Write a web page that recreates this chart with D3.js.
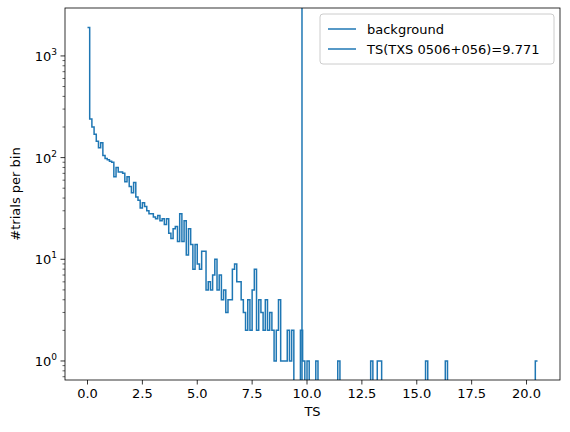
<!DOCTYPE html>
<html><head><meta charset="utf-8">
<script src="https://cdn.jsdelivr.net/npm/d3@7"></script>
<style>body{margin:0;background:#fff}text{font-family:"DejaVu Sans",sans-serif;fill:#000}</style>
</head><body><svg id="c" width="570" height="432"></svg>
<script>
// histogram counts, bin width 0.1 starting at TS=0
const binStart = 0, binWidth = 0.1;
const counts = [
  1900, 240, 200, 170, 145, 125, 140, 105, 98, 95,
  92, 90, 65, 80, 72, 72, 70, 58, 65, 52,
  45, 57, 41, 38, 32, 36, 33, 30, 28, 28,
  26, 25, 27, 24, 25, 22, 25, 18, 16, 20,
  21, 15, 28, 15, 24, 11, 20, 14, 8, 14,
  9, 8, 12, 12, 5, 6, 5, 7, 10, 5,
  7, 4, 5, 3, 4, 4, 8, 9, 6, 6,
  4, 3, 2, 4, 2, 5, 8, 2, 4, 3,
  2, 4, 2, 3, 2, 1, 2, 4, 1, 1,
  1, 2, 1, 2, 0, 0, 0, 2, 1, 0,
  1, 0, 0, 0, 1, 0, 0, 0, 0, 0,
  0, 0, 0, 0, 1, 0, 0, 0, 0, 0,
  0, 0, 0, 0, 0, 0, 0, 0, 0, 1,
  0, 0, 1, 1, 0, 0, 0, 0, 0, 0,
  0, 0, 0, 0, 0, 0, 0, 0, 0, 0,
  0, 0, 0, 0, 1, 0, 0, 0, 0, 0,
  0, 0, 0, 1, 0, 0, 0, 0, 0, 0,
  0, 0, 0, 0, 0, 0, 0, 0, 0, 0,
  0, 0, 0, 0, 0, 0, 0, 0, 0, 0,
  0, 0, 0, 0, 0, 0, 0, 0, 0, 0,
  0, 0, 0, 0, 1
];
const tsObserved = 9.771;
const xTicks = [0, 2.5, 5, 7.5, 10, 12.5, 15, 17.5, 20];
const yTicks = [1, 10, 100, 1000];
const legendLabels = ["background", "TS(TXS 0506+056)=9.771"];

const L = 65, R = 560, T = 8, B = 380, col = "#1f77b4";
const svg = d3.select("#c");
const x = d3.scaleLinear().domain([-1.025, 21.525]).range([L, R]);
const y = d3.scaleLog().domain([0.65, 2960]).range([B, T]);

svg.append("clipPath").attr("id", "clip").append("rect")
  .attr("x", L).attr("y", T).attr("width", R - L).attr("height", B - T);

const pts = [];
counts.forEach((c, i) => {
  const v = c > 0 ? c : 0.01;
  pts.push([binStart + i * binWidth, v], [binStart + (i + 1) * binWidth, v]);
});
const line = d3.line().x(d => x(d[0])).y(d => y(d[1]));
const g = svg.append("g").attr("clip-path", "url(#clip)");
g.append("path").attr("d", line(pts)).attr("fill", "none").attr("stroke", col).attr("stroke-width", 1.5);
g.append("line").attr("x1", x(tsObserved)).attr("x2", x(tsObserved)).attr("y1", T).attr("y2", B)
  .attr("stroke", col).attr("stroke-width", 1.5);

svg.append("rect").attr("x", L).attr("y", T).attr("width", R - L).attr("height", B - T)
  .attr("fill", "none").attr("stroke", "#000").attr("stroke-width", 0.8);

// x axis
const xa = svg.append("g");
xTicks.forEach(t => {
  xa.append("line").attr("x1", x(t)).attr("x2", x(t)).attr("y1", B).attr("y2", B + 4.5).attr("stroke", "#000").attr("stroke-width", 0.8);
  xa.append("text").attr("x", x(t)).attr("y", B + 18).attr("text-anchor", "middle").attr("font-size", 13).text(d3.format(".1f")(t));
});
svg.append("text").attr("x", (L + R) / 2).attr("y", B + 36).attr("text-anchor", "middle").attr("font-size", 13).text("TS");

// y axis
const ya = svg.append("g");
for (let d = 0; d < 4; d++) for (let m = 2; m < 10; m++) {
  const v = m * Math.pow(10, d - 1);
  if (v < 0.65 || v > 2960) continue;
  ya.append("line").attr("x1", L - 2.5).attr("x2", L).attr("y1", y(v)).attr("y2", y(v)).attr("stroke", "#000").attr("stroke-width", 0.6);
}
yTicks.forEach(t => {
  ya.append("line").attr("x1", L - 4.5).attr("x2", L).attr("y1", y(t)).attr("y2", y(t)).attr("stroke", "#000").attr("stroke-width", 0.8);
  const tx = ya.append("text").attr("x", L - 8).attr("y", y(t) + 5).attr("text-anchor", "end").attr("font-size", 13);
  tx.append("tspan").text("10");
  tx.append("tspan").attr("dy", -6).attr("font-size", 9).text(Math.round(Math.log10(t)));
});
svg.append("text").attr("transform", `translate(20,${(T + B) / 2}) rotate(-90)`).attr("text-anchor", "middle").attr("font-size", 13).text("#trials per bin");

// legend
const lg = svg.append("g");
lg.append("rect").attr("x", 320).attr("y", 14).attr("width", 234).attr("height", 50).attr("rx", 3)
  .attr("fill", "#fff").attr("fill-opacity", 0.8).attr("stroke", "#ccc");
legendLabels.forEach((s, i) => {
  const yy = 29 + i * 20;
  lg.append("line").attr("x1", 328).attr("x2", 356).attr("y1", yy).attr("y2", yy).attr("stroke", col).attr("stroke-width", 1.5);
  lg.append("text").attr("x", 367).attr("y", yy + 5).attr("font-size", 13).text(s);
});
</script></body></html>
